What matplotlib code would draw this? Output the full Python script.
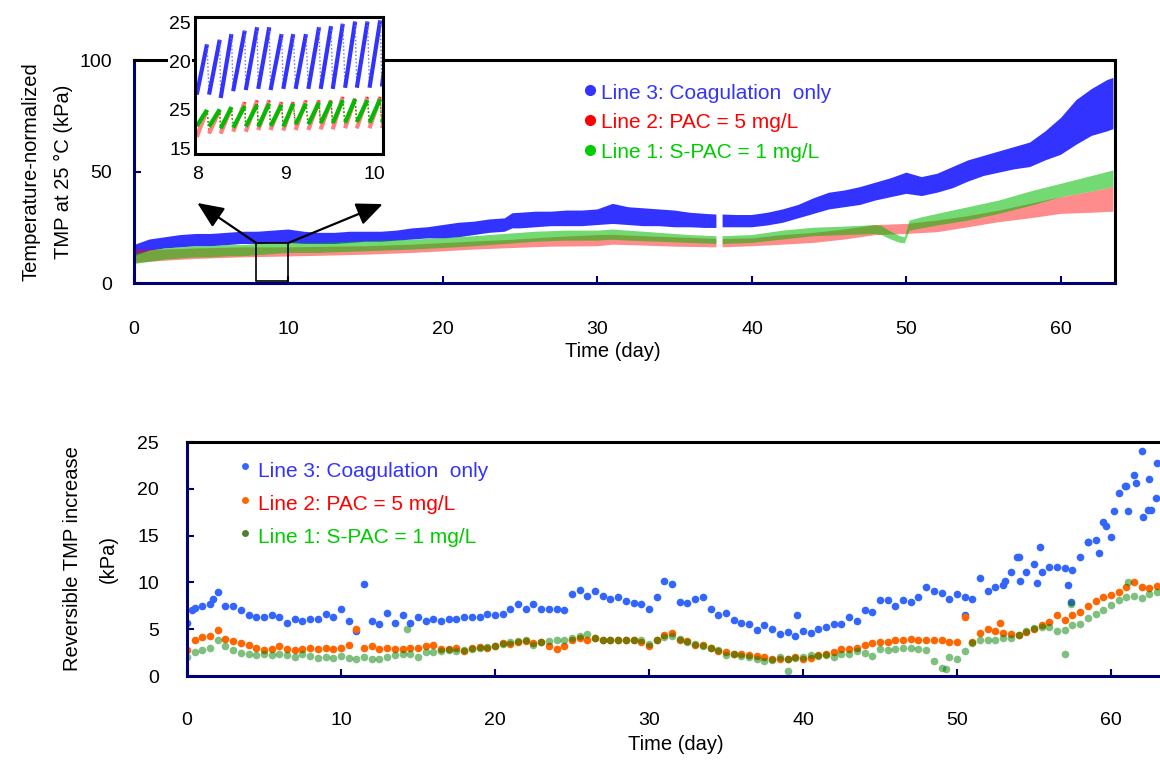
import numpy as np
import matplotlib.pyplot as plt
from matplotlib.patches import Rectangle

plt.rcParams['font.family'] = ['Liberation Sans', 'DejaVu Sans']

# === top panel: TMP band (lower / upper edge, kPa) ===
nan = np.nan
tmp_days_l3 = [0, 1, 2, 3, 4, 5, 6, 7, 8, 9, 10, 11, 12, 13, 14, 15, 16, 17, 18, 19,
               20, 21, 22, 23, 24, 24.5, 25, 26, 27, 28, 29, 30, 31, 32, 33, 34, 35, 36, 37, 37.7,
               37.9, 38.1, 39, 40, 41, 42, 43, 44, 45, 46, 47, 48, 49, 50, 51, 52, 53, 54, 55, 56,
               57, 58, 59, 60, 61, 62, 63, 63.4]
tmp_lo_l3 = [12, 14.5, 15.5, 16, 16.5, 16.5, 17, 17.5, 17.5, 18, 18, 17.5, 17.5, 17.5, 18, 18.5, 18.5, 19, 19.5, 20,
             20, 20.5, 21.5, 22.5, 23, 24.5, 24.5, 25, 25.5, 25.5, 25.5, 26, 26.5, 26, 25.5, 25.5, 25, 25, 24.7, 24.7,
             nan, 25, 25, 25, 25.8, 27, 29, 31, 33, 34, 35, 37, 38.5, 40, 39, 40.5, 42.5, 45.5, 48, 49.5,
             51, 52, 55, 57.5, 62, 66, 68, 69]
tmp_hi_l3 = [17, 19.5, 20.5, 21.5, 22, 22, 22.5, 23, 23, 23.5, 24, 23, 22.5, 22.5, 23, 23, 23, 23.5, 24.5, 25,
             26, 27, 27.5, 28.5, 29, 31.3, 31.5, 32, 32, 32.5, 32.5, 33, 35.5, 34, 33.5, 33, 32.5, 31.5, 31, 30.7,
             nan, 30.7, 30.5, 30.5, 31.5, 33, 35, 38, 40.5, 41.5, 43, 45, 47, 49.5, 47.5, 49, 52, 55, 57, 59,
             61, 63, 68, 74, 82, 87, 91, 92]

tmp_days_l2 = [0, 2, 4, 7, 10, 12, 15, 18, 20, 22, 24.5, 27, 30, 31, 33, 35, 37.7, 37.9, 38.1, 40,
               42, 44, 46, 48, 50, 52, 54, 56, 58, 60, 62, 63.4]
tmp_lo_l2 = [9, 10, 10.8, 11.5, 11.9, 12.2, 12.7, 13.5, 14.2, 15, 15.7, 16.3, 16.5, 17.2, 16.8, 16.3, 16, nan, 16, 16.5,
             17.2, 18, 19.5, 21.5, 22, 22.8, 25, 27.3, 29, 31, 31.5, 32]
tmp_hi_l2 = [15, 15, 15.5, 16, 16, 16.2, 16.5, 17.2, 17.9, 18.6, 19.4, 20.5, 21.5, 21.6, 21, 20.5, 19.8, nan, 19.8, 20,
             21.5, 22.5, 24, 26, 26.5, 28, 30, 32.5, 35.5, 38.5, 41, 43]

tmp_days_l1 = [0, 1, 2, 3, 4, 5, 6, 7, 8, 9, 10, 12, 14, 16, 18, 20, 22, 24, 26, 28,
               30, 31, 32, 34, 36, 37.7, 37.9, 38.1, 40, 42, 44, 46, 48, 48.4, 49, 49.6, 49.9, 50.2, 51, 52,
               54, 56, 58, 60, 62, 63.4]
tmp_lo_l1 = [8.5, 9.5, 10.5, 11, 11.5, 11.5, 12, 12, 12.5, 13, 13.5, 13.5, 14, 14.5, 15, 15.7, 16.5, 17.5, 18.5, 19,
             19, 19.4, 19, 18.5, 18, 17.5, nan, 17.5, 18, 19.5, 21, 21.5, 22, 21.5, 19.5, 18, 17.8, 23.5, 24.5, 25.8,
             28, 31, 34.5, 38.5, 41, 43]
tmp_hi_l1 = [13, 14.5, 15.5, 16, 16.5, 16.5, 17, 17, 17.5, 17.5, 18, 18, 18.5, 19, 19.5, 20.1, 21, 22, 23, 23.5,
             23.5, 24, 23.5, 22.5, 21.5, 21, nan, 21, 21.5, 23.5, 24.8, 25.3, 26, 25.5, 23, 21, 20.5, 28, 29.5, 31,
             34, 37, 41, 44.5, 48, 50.5]

# === inset: filtration cycles between day 8 and 10 ===
ins_start_t = [7.99, 8.129, 8.261, 8.402, 8.545, 8.686, 8.826, 8.970, 9.110, 9.254, 9.394, 9.530, 9.670, 9.803,
               9.947, 10.087]
ins_peak_t = [7.975, 8.106, 8.25, 8.383, 8.534, 8.674, 8.811, 8.951, 9.083, 9.227, 9.375, 9.511, 9.644, 9.784,
              9.924, 10.068, 10.14]
ins_l3_start = [19.2, 19.2, 18.9, 19.5, 19.6, 19.7, 19.6, 19.7, 19.7, 19.7, 19.7, 19.7, 19.8, 19.8, 19.8, 19.9]
ins_l3_peak = [23.9, 23.6, 24.0, 24.5, 24.8, 25.1, 25.1, 24.5, 24.5, 24.5, 25.1, 25.2, 25.4, 25.6, 25.6, 25.7, 23.1]
ins_l2_start = [15.5, 15.8, 15.8, 15.95, 15.95, 16.1, 16.1, 16.05, 16.1, 16.1, 16.15, 16.15, 16.25, 16.25, 16.25, 16.25]
ins_l2_peak = [18.0, 17.85, 17.85, 18.1, 18.55, 18.7, 18.7, 18.55, 18.55, 18.7, 18.7, 18.7, 19.0, 18.85, 19.0, 19.0, 17.5]
ins_l1_start = [16.45, 16.4, 16.25, 16.3, 16.4, 16.4, 16.45, 16.4, 16.6, 16.6, 16.7, 16.7, 16.75, 16.8, 16.75, 16.75]
ins_l1_peak = [17.4, 17.85, 17.9, 18.1, 18.2, 18.3, 18.4, 18.3, 18.4, 18.4, 18.5, 18.6, 18.7, 18.8, 18.7, 18.8, 17.85]
ins_ytick_pos = [25.5, 22.1, 17.9, 14.5]
ins_ytick_lab = ['25', '20', '25', '15']

# === bottom panel: reversible TMP increase, one value every half day (kPa) ===
rev_days = np.arange(0, 63.01, 0.5)
rev_l3 = [5.7, 7.3, 7.5, 7.7, 9.0, 7.5, 7.5, 7.0, 6.5, 6.3,
          6.3, 6.5, 6.3, 5.7, 6.1, 5.9, 6.1, 6.1, 6.6, 6.3,
          7.2, 5.9, 4.8, 9.8, 5.9, 5.6, 6.7, 5.7, 6.5, 5.7,
          6.3, 5.9, 6.1, 5.9, 6.1, 6.1, 6.3, 6.3, 6.3, 6.6,
          6.5, 6.6, 7.2, 7.7, 7.2, 7.7, 7.2, 7.2, 7.2, 7.0,
          8.8, 9.2, 8.5, 9.1, 8.6, 8.2, 8.4, 8.0, 7.8, 7.7,
          7.2, 8.4, 10.1, 9.8, 7.9, 7.8, 8.2, 8.4, 7.2, 6.5,
          6.7, 6.0, 5.7, 5.6, 4.9, 5.4, 5.0, 4.5, 4.7, 4.3,
          4.8, 4.6, 5.0, 5.2, 5.6, 5.6, 6.3, 5.9, 7.1, 6.8,
          8.1, 8.1, 7.5, 8.1, 7.9, 8.4, 9.5, 9.1, 8.9, 8.2,
          8.8, 8.4, 8.2, 10.5, 9.1, 9.5, 9.7, 11.1, 12.7, 11.1,
          12.0, 11.1, 11.6, 11.6, 11.5, 11.3, 12.7, 14.3, 14.5, 16.5,
          14.9, 19.5, 20.3, 21.5, 24.0, 21.0, 22.8]
rev_l2 = [2.8, 3.8, 4.2, 4.3, 4.9, 4.0, 3.7, 3.5, 3.3, 3.0,
          2.8, 2.9, 3.2, 2.9, 2.8, 2.9, 3.0, 2.9, 3.0, 2.9,
          3.0, 3.3, 5.0, 3.0, 3.2, 2.9, 3.0, 2.9, 2.9, 3.0,
          3.0, 3.2, 3.3, 2.9, 2.9, 3.0, 2.7, 3.0, 3.1, 3.0,
          3.2, 3.5, 3.4, 3.6, 3.7, 3.5, 3.6, 3.2, 2.9, 3.2,
          3.9, 4.1, 3.9, 4.1, 3.9, 3.9, 3.8, 3.9, 3.8, 3.6,
          3.2, 3.8, 4.4, 4.6, 3.9, 3.7, 3.3, 3.3, 3.0, 2.7,
          2.6, 2.4, 2.4, 2.2, 2.1, 2.0, 1.8, 1.8, 1.8, 2.0,
          1.8, 1.9, 2.2, 2.3, 2.6, 2.9, 2.9, 3.0, 3.3, 3.5,
          3.6, 3.6, 3.8, 3.8, 4.0, 3.9, 3.8, 3.9, 3.9, 3.6,
          3.6, 6.3, 3.6, 4.6, 5.0, 4.8, 4.6, 4.5, 4.4, 4.7,
          5.0, 5.4, 5.8, 6.5, 6.0, 6.5, 6.8, 7.5, 8.0, 8.4,
          8.7, 9.0, 9.5, 10.0, 9.5, 9.4, 9.6]
rev_l1 = [2.0, 2.6, 2.8, 3.0, 3.8, 3.2, 2.8, 2.5, 2.3, 2.2,
          2.3, 2.2, 2.3, 2.2, 2.0, 2.3, 2.1, 1.9, 2.0, 1.9,
          2.1, 1.9, 1.8, 2.0, 1.8, 1.8, 2.0, 2.2, 2.4, 2.3,
          2.0, 2.6, 2.6, 2.7, 2.8, 2.7, 2.8, 2.9, 3.0, 3.1,
          3.2, 3.4, 3.6, 3.7, 3.8, 3.3, 3.6, 3.7, 3.8, 3.9,
          4.1, 4.3, 4.5, 4.1, 3.9, 3.9, 3.8, 3.8, 3.8, 3.9,
          3.4, 3.8, 4.2, 4.3, 4.0, 3.6, 3.4, 3.2, 3.0, 2.8,
          2.2, 2.4, 2.1, 2.0, 1.8, 1.6, 1.7, 2.0, 1.8, 1.9,
          2.0, 2.2, 2.1, 2.2, 2.0, 2.3, 2.4, 2.7, 2.5, 2.1,
          2.9, 2.8, 2.9, 3.0, 3.0, 2.9, 2.8, 1.6, 0.9, 2.0,
          1.8, 2.7, 3.5, 3.8, 3.8, 3.9, 4.1, 4.1, 4.4, 4.8,
          5.1, 5.2, 5.2, 4.8, 4.9, 5.5, 5.6, 6.2, 6.6, 7.0,
          7.6, 8.1, 8.4, 8.6, 8.3, 8.8, 9.0]

# extra scattered points that fall between the half-day readings
extra_l3_days = [0.3, 1.7, 39.6, 50.5, 53.1, 53.9, 54.1, 55.2, 55.4, 57.2, 57.4, 58.5, 59.2, 59.7,
                 60.2, 60.9, 61.1, 61.6, 62.1, 62.4, 62.6, 62.9]
extra_l3_vals = [7.0, 8.2, 6.5, 6.5, 10.2, 12.7, 10.2, 9.9, 13.8, 9.7, 7.9, 14.3, 13.1, 16.0,
                 17.6, 20.3, 17.6, 20.6, 17.0, 17.7, 17.7, 19.0]
extra_l2_days = [52.8]
extra_l2_vals = [5.7]
extra_l1_days = [14.3, 39.0, 49.3, 57.0, 57.4, 61.1]
extra_l1_vals = [5.0, 0.5, 0.8, 2.3, 7.7, 10.0]

labels = ['Line 3: Coagulation  only', 'Line 2: PAC = 5 mg/L', 'Line 1: S-PAC = 1 mg/L']
text_colors = ['#3333FF', '#FF0000', '#00CC00']

navy = '#000070'
FS = 14


def style_axes(ax):
    for side in ['left', 'bottom']:
        ax.spines[side].set_color(navy)
    for side in ['top', 'right']:
        ax.spines[side].set_color('black')
    for s in ax.spines.values():
        s.set_linewidth(2.2)
    ax.tick_params(direction='in', length=5, width=1.5, color=navy, labelsize=FS)
    ax.tick_params(axis='x', pad=27)
    ax.tick_params(axis='y', pad=16)


fig = plt.figure(figsize=(11.6, 7.6), dpi=100)

# === top panel ===
ax1 = fig.add_axes([0.1155, 0.6276, 0.8457, 0.2934])
ax1.fill_between(tmp_days_l3, tmp_lo_l3, tmp_hi_l3, color='#3333FF', lw=0)
ax1.fill_between(tmp_days_l2, tmp_lo_l2, tmp_hi_l2, color='#FF0000', alpha=0.45, lw=0)
ax1.fill_between(tmp_days_l1, tmp_lo_l1, tmp_hi_l1, color='#00BB00', alpha=0.55, lw=0)
ax1.set_xlim(0, 63.5)
ax1.set_ylim(0, 100)
ax1.set_xticks(range(0, 61, 10))
ax1.set_yticks([0, 50, 100])
style_axes(ax1)
ax1.set_xlabel('Time (day)', fontsize=14.5)
ax1.xaxis.set_label_coords(0.488, -0.265)
ax1.set_ylabel('Temperature-normalized\nTMP at 25 °C (kPa)', fontsize=14.5, linespacing=1.9)
ax1.yaxis.set_label_coords(-0.062, 0.5)

# zoom box and arrows
ax1.add_patch(Rectangle((7.9, 1.0), 2.1, 17.0, fill=False, ec='black', lw=1.2, zorder=5))
for start, tip in [((7.9, 18.0), (4.1, 35.9)), ((10.0, 18.0), (16.1, 35.4))]:
    ax1.annotate('', xy=tip, xytext=start,
                 arrowprops=dict(arrowstyle='-|>,head_length=0.8,head_width=0.35',
                                 color='black', lw=1.6, mutation_scale=20, shrinkA=0, shrinkB=0))

# legend
for i, (lab, c) in enumerate(zip(labels, text_colors)):
    y = 0.852 - i * 0.134
    ax1.plot([0.465], [y + 0.013], 'o', color=c, ms=7, transform=ax1.transAxes, clip_on=False)
    ax1.text(0.476, y, lab, color=c, fontsize=15, va='center', ha='left', transform=ax1.transAxes)

# === inset ===
axi = fig.add_axes([0.1681, 0.7974, 0.1621, 0.1803])
series = [(ins_l2_start, ins_l2_peak, '#FF8080', '#FF0000'),
          (ins_l1_start, ins_l1_peak, '#00BB00', '#00BB00'),
          (ins_l3_start, ins_l3_peak, '#3333FF', '#6666FF')]
for starts, peaks, c_up, c_drop in series:
    for i in range(len(ins_start_t)):
        axi.plot([ins_peak_t[i], ins_start_t[i]], [peaks[i], starts[i]], ls=':', color=c_drop, lw=1)
        axi.plot([ins_start_t[i], ins_peak_t[i + 1]], [starts[i], peaks[i + 1]], color=c_up, lw=3,
                 solid_capstyle='butt')
axi.set_xlim(7.97, 10.10)
axi.set_ylim(14, 26)
axi.set_xticks([8, 9, 10])
axi.set_yticks(ins_ytick_pos)
axi.set_yticklabels(ins_ytick_lab)
for s in axi.spines.values():
    s.set_linewidth(2.2)
    s.set_color('black')
axi.tick_params(length=0, labelsize=FS)
axi.tick_params(axis='x', pad=9)
axi.tick_params(axis='y', pad=3)
for t in axi.get_yticklabels():
    t.set_bbox(dict(facecolor='white', edgecolor='none', pad=1))

# === bottom panel ===
ax2 = fig.add_axes([0.1612, 0.1105, 0.843, 0.3079])
ax2.plot(rev_days, rev_l3, 'o', color='#3366FF', ms=5.5, mew=0)
ax2.plot(extra_l3_days, extra_l3_vals, 'o', color='#3366FF', ms=5.5, mew=0)
ax2.plot(rev_days, rev_l2, 'o', color='#FF6600', ms=5.5, mew=0)
ax2.plot(extra_l2_days, extra_l2_vals, 'o', color='#FF6600', ms=5.5, mew=0)
ax2.plot(rev_days, rev_l1, 'o', color='#008000', alpha=0.5, ms=5.5, mew=0)
ax2.plot(extra_l1_days, extra_l1_vals, 'o', color='#008000', alpha=0.5, ms=5.5, mew=0)
ax2.set_xlim(0, 63.5)
ax2.set_ylim(0, 25)
ax2.set_xticks(range(0, 61, 10))
ax2.set_yticks(range(0, 26, 5))
style_axes(ax2)
ax2.tick_params(axis='y', pad=20)
ax2.tick_params(axis='x', pad=26)
ax2.set_xlabel('Time (day)', fontsize=14.5, labelpad=4)
ax2.set_ylabel('Reversible TMP increase\n(kPa)', fontsize=14.5, linespacing=2.1)
ax2.yaxis.set_label_coords(-0.071, 0.5)

marker_colors = ['#3366FF', '#FF6600', '#4F7F2F']
for i, (lab, c, mc) in enumerate(zip(labels, text_colors, marker_colors)):
    y = 0.876 - i * 0.143
    ax2.plot([0.0593], [y + 0.02], 'o', color=mc, ms=5, mew=0, transform=ax2.transAxes, clip_on=False)
    ax2.text(0.0726, y, lab, color=c, fontsize=15, va='center', ha='left', transform=ax2.transAxes)

plt.savefig('out.png', dpi=100)
plt.close()
print('Saved to: out.png')
